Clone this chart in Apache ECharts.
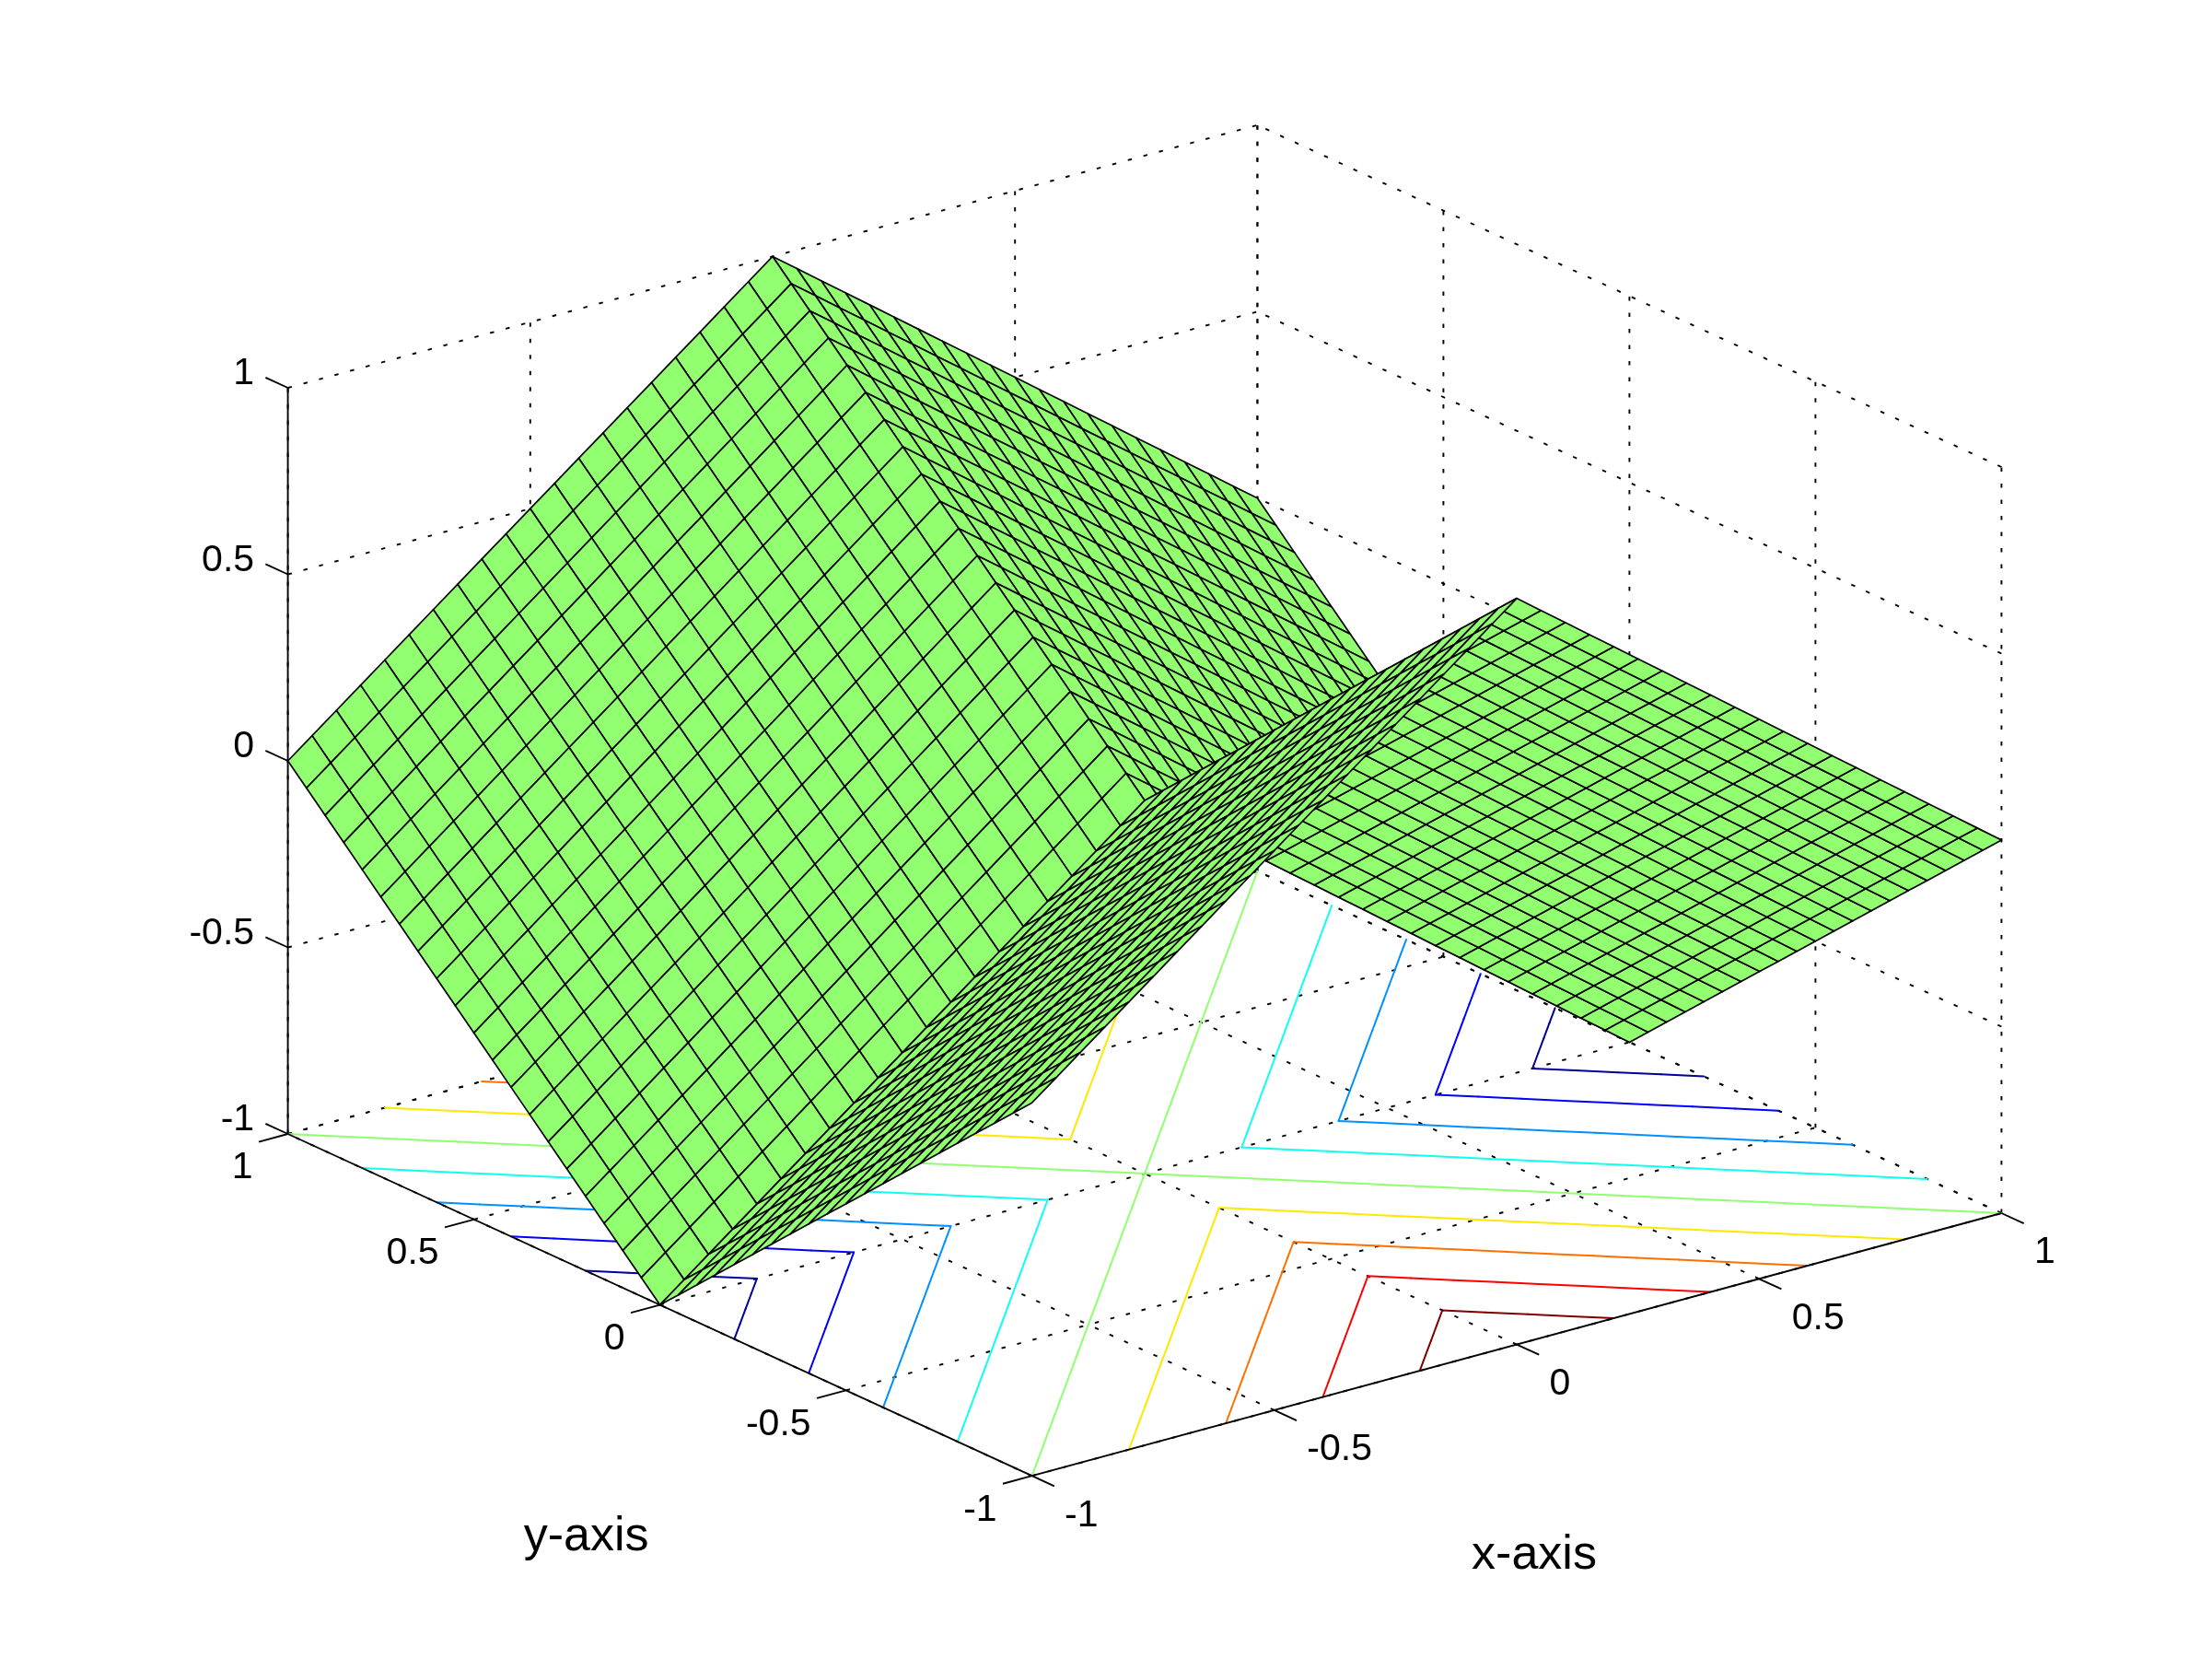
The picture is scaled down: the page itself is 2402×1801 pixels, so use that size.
<!DOCTYPE html>
<html>
<head>
<meta charset="utf-8">
<style>html,body{margin:0;padding:0;background:#fff}#c{width:2402px;height:1801px}</style>
<script src="https://cdn.jsdelivr.net/npm/echarts@6/dist/echarts.min.js"></script>
</head>
<body>
<div id="c"></div>
<script>
// ---------- data ----------
const xValues = [-1,-0.95,-0.9,-0.85,-0.8,-0.75,-0.7,-0.65,-0.6,-0.55,-0.5,-0.45,-0.4,-0.35,-0.3,-0.25,-0.2,-0.15,-0.1,-0.05,0,0.05,0.1,0.15,0.2,0.25,0.3,0.35,0.4,0.45,0.5,0.55,0.6,0.65,0.7,0.75,0.8,0.85,0.9,0.95,1];
const yValues = [-1,-0.95,-0.9,-0.85,-0.8,-0.75,-0.7,-0.65,-0.6,-0.55,-0.5,-0.45,-0.4,-0.35,-0.3,-0.25,-0.2,-0.15,-0.1,-0.05,0,0.05,0.1,0.15,0.2,0.25,0.3,0.35,0.4,0.45,0.5,0.55,0.6,0.65,0.7,0.75,0.8,0.85,0.9,0.95,1];
// surface heights, in twentieths; one row per y value, one column per x value
const zTwentieths = [
[0,1,2,3,4,5,6,7,8,9,10,11,12,13,14,15,16,17,18,19,20,19,18,17,16,15,14,13,12,11,10,9,8,7,6,5,4,3,2,1,0],
[-1,0,1,2,3,4,5,6,7,8,9,10,11,12,13,14,15,16,17,18,19,18,17,16,15,14,13,12,11,10,9,8,7,6,5,4,3,2,1,0,-1],
[-2,-1,0,1,2,3,4,5,6,7,8,9,10,11,12,13,14,15,16,17,18,17,16,15,14,13,12,11,10,9,8,7,6,5,4,3,2,1,0,-1,-2],
[-3,-2,-1,0,1,2,3,4,5,6,7,8,9,10,11,12,13,14,15,16,17,16,15,14,13,12,11,10,9,8,7,6,5,4,3,2,1,0,-1,-2,-3],
[-4,-3,-2,-1,0,1,2,3,4,5,6,7,8,9,10,11,12,13,14,15,16,15,14,13,12,11,10,9,8,7,6,5,4,3,2,1,0,-1,-2,-3,-4],
[-5,-4,-3,-2,-1,0,1,2,3,4,5,6,7,8,9,10,11,12,13,14,15,14,13,12,11,10,9,8,7,6,5,4,3,2,1,0,-1,-2,-3,-4,-5],
[-6,-5,-4,-3,-2,-1,0,1,2,3,4,5,6,7,8,9,10,11,12,13,14,13,12,11,10,9,8,7,6,5,4,3,2,1,0,-1,-2,-3,-4,-5,-6],
[-7,-6,-5,-4,-3,-2,-1,0,1,2,3,4,5,6,7,8,9,10,11,12,13,12,11,10,9,8,7,6,5,4,3,2,1,0,-1,-2,-3,-4,-5,-6,-7],
[-8,-7,-6,-5,-4,-3,-2,-1,0,1,2,3,4,5,6,7,8,9,10,11,12,11,10,9,8,7,6,5,4,3,2,1,0,-1,-2,-3,-4,-5,-6,-7,-8],
[-9,-8,-7,-6,-5,-4,-3,-2,-1,0,1,2,3,4,5,6,7,8,9,10,11,10,9,8,7,6,5,4,3,2,1,0,-1,-2,-3,-4,-5,-6,-7,-8,-9],
[-10,-9,-8,-7,-6,-5,-4,-3,-2,-1,0,1,2,3,4,5,6,7,8,9,10,9,8,7,6,5,4,3,2,1,0,-1,-2,-3,-4,-5,-6,-7,-8,-9,-10],
[-11,-10,-9,-8,-7,-6,-5,-4,-3,-2,-1,0,1,2,3,4,5,6,7,8,9,8,7,6,5,4,3,2,1,0,-1,-2,-3,-4,-5,-6,-7,-8,-9,-10,-11],
[-12,-11,-10,-9,-8,-7,-6,-5,-4,-3,-2,-1,0,1,2,3,4,5,6,7,8,7,6,5,4,3,2,1,0,-1,-2,-3,-4,-5,-6,-7,-8,-9,-10,-11,-12],
[-13,-12,-11,-10,-9,-8,-7,-6,-5,-4,-3,-2,-1,0,1,2,3,4,5,6,7,6,5,4,3,2,1,0,-1,-2,-3,-4,-5,-6,-7,-8,-9,-10,-11,-12,-13],
[-14,-13,-12,-11,-10,-9,-8,-7,-6,-5,-4,-3,-2,-1,0,1,2,3,4,5,6,5,4,3,2,1,0,-1,-2,-3,-4,-5,-6,-7,-8,-9,-10,-11,-12,-13,-14],
[-15,-14,-13,-12,-11,-10,-9,-8,-7,-6,-5,-4,-3,-2,-1,0,1,2,3,4,5,4,3,2,1,0,-1,-2,-3,-4,-5,-6,-7,-8,-9,-10,-11,-12,-13,-14,-15],
[-16,-15,-14,-13,-12,-11,-10,-9,-8,-7,-6,-5,-4,-3,-2,-1,0,1,2,3,4,3,2,1,0,-1,-2,-3,-4,-5,-6,-7,-8,-9,-10,-11,-12,-13,-14,-15,-16],
[-17,-16,-15,-14,-13,-12,-11,-10,-9,-8,-7,-6,-5,-4,-3,-2,-1,0,1,2,3,2,1,0,-1,-2,-3,-4,-5,-6,-7,-8,-9,-10,-11,-12,-13,-14,-15,-16,-17],
[-18,-17,-16,-15,-14,-13,-12,-11,-10,-9,-8,-7,-6,-5,-4,-3,-2,-1,0,1,2,1,0,-1,-2,-3,-4,-5,-6,-7,-8,-9,-10,-11,-12,-13,-14,-15,-16,-17,-18],
[-19,-18,-17,-16,-15,-14,-13,-12,-11,-10,-9,-8,-7,-6,-5,-4,-3,-2,-1,0,1,0,-1,-2,-3,-4,-5,-6,-7,-8,-9,-10,-11,-12,-13,-14,-15,-16,-17,-18,-19],
[-20,-19,-18,-17,-16,-15,-14,-13,-12,-11,-10,-9,-8,-7,-6,-5,-4,-3,-2,-1,0,-1,-2,-3,-4,-5,-6,-7,-8,-9,-10,-11,-12,-13,-14,-15,-16,-17,-18,-19,-20],
[-19,-18,-17,-16,-15,-14,-13,-12,-11,-10,-9,-8,-7,-6,-5,-4,-3,-2,-1,0,1,0,-1,-2,-3,-4,-5,-6,-7,-8,-9,-10,-11,-12,-13,-14,-15,-16,-17,-18,-19],
[-18,-17,-16,-15,-14,-13,-12,-11,-10,-9,-8,-7,-6,-5,-4,-3,-2,-1,0,1,2,1,0,-1,-2,-3,-4,-5,-6,-7,-8,-9,-10,-11,-12,-13,-14,-15,-16,-17,-18],
[-17,-16,-15,-14,-13,-12,-11,-10,-9,-8,-7,-6,-5,-4,-3,-2,-1,0,1,2,3,2,1,0,-1,-2,-3,-4,-5,-6,-7,-8,-9,-10,-11,-12,-13,-14,-15,-16,-17],
[-16,-15,-14,-13,-12,-11,-10,-9,-8,-7,-6,-5,-4,-3,-2,-1,0,1,2,3,4,3,2,1,0,-1,-2,-3,-4,-5,-6,-7,-8,-9,-10,-11,-12,-13,-14,-15,-16],
[-15,-14,-13,-12,-11,-10,-9,-8,-7,-6,-5,-4,-3,-2,-1,0,1,2,3,4,5,4,3,2,1,0,-1,-2,-3,-4,-5,-6,-7,-8,-9,-10,-11,-12,-13,-14,-15],
[-14,-13,-12,-11,-10,-9,-8,-7,-6,-5,-4,-3,-2,-1,0,1,2,3,4,5,6,5,4,3,2,1,0,-1,-2,-3,-4,-5,-6,-7,-8,-9,-10,-11,-12,-13,-14],
[-13,-12,-11,-10,-9,-8,-7,-6,-5,-4,-3,-2,-1,0,1,2,3,4,5,6,7,6,5,4,3,2,1,0,-1,-2,-3,-4,-5,-6,-7,-8,-9,-10,-11,-12,-13],
[-12,-11,-10,-9,-8,-7,-6,-5,-4,-3,-2,-1,0,1,2,3,4,5,6,7,8,7,6,5,4,3,2,1,0,-1,-2,-3,-4,-5,-6,-7,-8,-9,-10,-11,-12],
[-11,-10,-9,-8,-7,-6,-5,-4,-3,-2,-1,0,1,2,3,4,5,6,7,8,9,8,7,6,5,4,3,2,1,0,-1,-2,-3,-4,-5,-6,-7,-8,-9,-10,-11],
[-10,-9,-8,-7,-6,-5,-4,-3,-2,-1,0,1,2,3,4,5,6,7,8,9,10,9,8,7,6,5,4,3,2,1,0,-1,-2,-3,-4,-5,-6,-7,-8,-9,-10],
[-9,-8,-7,-6,-5,-4,-3,-2,-1,0,1,2,3,4,5,6,7,8,9,10,11,10,9,8,7,6,5,4,3,2,1,0,-1,-2,-3,-4,-5,-6,-7,-8,-9],
[-8,-7,-6,-5,-4,-3,-2,-1,0,1,2,3,4,5,6,7,8,9,10,11,12,11,10,9,8,7,6,5,4,3,2,1,0,-1,-2,-3,-4,-5,-6,-7,-8],
[-7,-6,-5,-4,-3,-2,-1,0,1,2,3,4,5,6,7,8,9,10,11,12,13,12,11,10,9,8,7,6,5,4,3,2,1,0,-1,-2,-3,-4,-5,-6,-7],
[-6,-5,-4,-3,-2,-1,0,1,2,3,4,5,6,7,8,9,10,11,12,13,14,13,12,11,10,9,8,7,6,5,4,3,2,1,0,-1,-2,-3,-4,-5,-6],
[-5,-4,-3,-2,-1,0,1,2,3,4,5,6,7,8,9,10,11,12,13,14,15,14,13,12,11,10,9,8,7,6,5,4,3,2,1,0,-1,-2,-3,-4,-5],
[-4,-3,-2,-1,0,1,2,3,4,5,6,7,8,9,10,11,12,13,14,15,16,15,14,13,12,11,10,9,8,7,6,5,4,3,2,1,0,-1,-2,-3,-4],
[-3,-2,-1,0,1,2,3,4,5,6,7,8,9,10,11,12,13,14,15,16,17,16,15,14,13,12,11,10,9,8,7,6,5,4,3,2,1,0,-1,-2,-3],
[-2,-1,0,1,2,3,4,5,6,7,8,9,10,11,12,13,14,15,16,17,18,17,16,15,14,13,12,11,10,9,8,7,6,5,4,3,2,1,0,-1,-2],
[-1,0,1,2,3,4,5,6,7,8,9,10,11,12,13,14,15,16,17,18,19,18,17,16,15,14,13,12,11,10,9,8,7,6,5,4,3,2,1,0,-1],
[0,1,2,3,4,5,6,7,8,9,10,11,12,13,14,15,16,17,18,19,20,19,18,17,16,15,14,13,12,11,10,9,8,7,6,5,4,3,2,1,0]
];
const tickValues = [-1,-0.5,0,0.5,1];
const tickLabels = ['-1','-0.5','0','0.5','1'];
const contourLevels = [-0.8,-0.6,-0.4,-0.2,0,0.2,0.4,0.6,0.8];
const contourColors = ['#00009A','#0000FF','#0090FF','#10FFEF','#90FF70','#FFE800','#FF7000','#FF0000','#800000'];
const axisTitles = ['x-axis','y-axis'];

// ---------- view (orthographic, az -37.5, el 30) ----------
const viewAcross = [526.4,-404,0];
const viewUp = [-142.6,-185.6,-405];
const viewCentre = [1243,869];
const FONT = '"Liberation Sans", Arial, sans-serif';
const project = (x,y,z) => [viewAcross[0]*x+viewAcross[1]*y, viewUp[0]*x+viewUp[1]*y+viewUp[2]*z];

const Z = zTwentieths.map(r => r.map(v => v/20));

// ---------- derived marks ----------
const surfaceCells = [];
for (let j = yValues.length-2; j >= 0; j--) {
  for (let i = xValues.length-2; i >= 0; i--) surfaceCells.push([i,j]);
}

const contourSegments = [];
contourLevels.forEach((L,li) => {
  for (let j = 0; j < yValues.length-1; j++) {
    for (let i = 0; i < xValues.length-1; i++) {
      const c = [[i,j],[i+1,j],[i+1,j+1],[i,j+1]];
      const pts = [];
      for (let k = 0; k < 4; k++) {
        const a = c[k], b = c[(k+1)%4];
        const za = Z[a[1]][a[0]], zb = Z[b[1]][b[0]];
        if ((za >= L) !== (zb >= L)) {
          const t = (L-za)/(zb-za);
          pts.push([xValues[a[0]]+t*(xValues[b[0]]-xValues[a[0]]), yValues[a[1]]+t*(yValues[b[1]]-yValues[a[1]])]);
        }
      }
      for (let k = 0; k+1 < pts.length; k += 2) {
        const p = pts[k], q = pts[k+1];
        if (Math.abs(p[0]-q[0])+Math.abs(p[1]-q[1]) > 1e-9) contourSegments.push([p[0],p[1],q[0],q[1],li]);
      }
    }
  }
});

const dotted = [];
const [lo,hi] = [tickValues[0], tickValues[tickValues.length-1]];
tickValues.forEach(t => {
  dotted.push([t,hi,lo, t,hi,hi]);      // back wall verticals
  dotted.push([hi,t,lo, hi,t,hi]);      // side wall verticals
  dotted.push([lo,hi,t, hi,hi,t]);      // back wall horizontals
  dotted.push([hi,lo,t, hi,hi,t]);      // side wall horizontals
  dotted.push([t,lo,lo, t,hi,lo]);      // floor
  dotted.push([lo,t,lo, hi,t,lo]);      // floor
});

const tickLen = 0.06;
const solid = [
  [lo,hi,lo, lo,hi,hi],
  [lo,lo,lo, hi,lo,lo],
  [lo,lo,lo, lo,hi,lo]
];
tickValues.forEach(t => {
  solid.push([lo,hi,t, lo,hi+tickLen,t]);
  solid.push([t,lo,lo, t,lo-tickLen,lo]);
  solid.push([lo,t,lo, lo-tickLen,t,lo]);
});

// text rows: data point plus pixel offset
const texts = [];
tickValues.forEach((t,n) => {
  texts.push({p:[lo,hi,t], dx:-36.5, dy:-15, s:tickLabels[n], a:'right', f:41});
  texts.push({p:[lo,t,lo], dx:-38, dy:37, s:tickLabels[n], a:'right', f:41});
  texts.push({p:[t,lo,lo], dx:35.5, dy:43, s:tickLabels[n], a:'left', f:41});
});
texts.push({p:[0,lo,lo], dx:19, dy:229.5, s:axisTitles[0], a:'center', f:52});
texts.push({p:[lo,0,lo], dx:-80, dy:252, s:axisTitles[1], a:'center', f:52});

// ---------- render items ----------
const P = (api,x,y,z) => api.coord(project(x,y,z));
const lineItem = (api,row,style) => {
  const a = P(api,row[0],row[1],row[2]), b = P(api,row[3],row[4],row[5]);
  return {type:'line', shape:{x1:a[0],y1:a[1],x2:b[0],y2:b[1]}, style:style};
};
const base = {type:'custom', coordinateSystem:'cartesian2d', silent:true, animation:false, clip:false, encode:{x:0,y:1}};

const option = {
  animation:false,
  backgroundColor:'#fff',
  grid:{left:0,right:0,top:0,bottom:0},
  xAxis:{type:'value', show:false, min:-viewCentre[0], max:2402-viewCentre[0]},
  yAxis:{type:'value', show:false, inverse:true, min:-viewCentre[1], max:1801-viewCentre[1]},
  series:[
    Object.assign({}, base, {z:1, data:dotted, renderItem:(p,api) =>
      lineItem(api, dotted[p.dataIndex], {stroke:'#000', lineWidth:1.9, lineDash:[4.5,13], fill:null})}),
    Object.assign({}, base, {z:2, data:contourSegments, renderItem:(p,api) => {
      const s = contourSegments[p.dataIndex];
      return lineItem(api, [s[0],s[1],lo,s[2],s[3],lo], {stroke:contourColors[s[4]], lineWidth:2, lineCap:'round', fill:null});
    }}),
    Object.assign({}, base, {z:3, data:solid, renderItem:(p,api) =>
      lineItem(api, solid[p.dataIndex], {stroke:'#000', lineWidth:1.9, fill:null})}),
    Object.assign({}, base, {z:4, data:surfaceCells, renderItem:(p,api) => {
      const [i,j] = surfaceCells[p.dataIndex];
      const pts = [[i,j],[i+1,j],[i+1,j+1],[i,j+1]].map(c => P(api,xValues[c[0]],yValues[c[1]],Z[c[1]][c[0]]));
      return {type:'polygon', z2:p.dataIndex, shape:{points:pts},
        style:{fill:'#91FF70', stroke:'#000', lineWidth:1.7, lineJoin:'round'}};
    }}),
    Object.assign({}, base, {z:5, data:texts.map((t,n)=>[n,0]), renderItem:(p,api) => {
      const t = texts[p.dataIndex];
      const c = P(api,t.p[0],t.p[1],t.p[2]);
      return {type:'text', style:{x:c[0]+t.dx, y:c[1]+t.dy, text:t.s, fill:'#000',
        font:t.f+'px '+FONT, textAlign:t.a, textVerticalAlign:'middle'}};
    }})
  ]
};
const chart = echarts.init(document.getElementById('c'), null, {renderer:'canvas', width:2402, height:1801});
chart.setOption(option);
</script>
</body>
</html>
